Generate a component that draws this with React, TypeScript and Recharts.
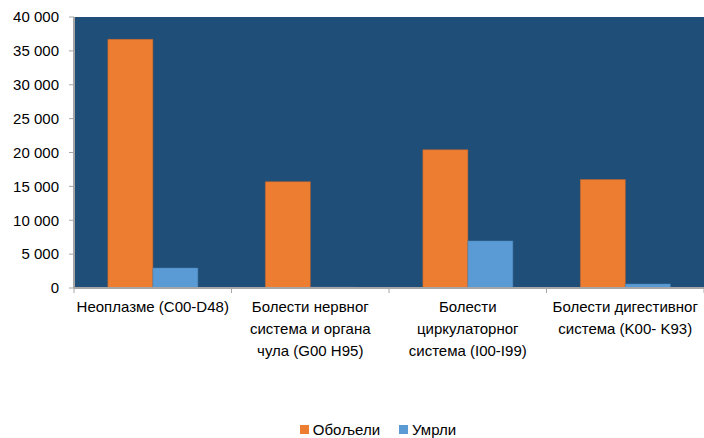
import { BarChart, Bar, XAxis, YAxis, CartesianGrid, Legend } from "recharts";

const categories = [
  "Неоплазме (C00-D48)",
  "Болести нервног\nсистема и органа\nчула (G00 H95)",
  "Болести\nциркулаторног\nсистема (I00-I99)",
  "Болести дигестивног\nсистема (K00- K93)",
];
const oboljeli = [36700, 15700, 20400, 16000];
const umrli = [2950, 120, 6950, 600];
const yTicks = [0, 5000, 10000, 15000, 20000, 25000, 30000, 35000, 40000];

const data = categories.map((name, i) => ({
  name,
  oboljeli: oboljeli[i],
  umrli: umrli[i],
}));

const FONT = "'Liberation Sans', Arial, sans-serif";
const AXIS = "#A6A6A6";

function formatThousands(v: number): string {
  return v.toString().replace(/\B(?=(\d{3})+(?!\d))/g, " ");
}

function CategoryTick(props: any) {
  const { x, y, payload, index, visibleTicksCount } = props;
  const half = 630 / categories.length / 2;
  const lines = String(payload.value).split("\n");
  return (
    <g>
      <line x1={x - half} x2={x - half} y1={y - 8} y2={y - 3} stroke={AXIS} />
      {index === visibleTicksCount - 1 && (
        <line x1={x + half} x2={x + half} y1={y - 8} y2={y - 3} stroke={AXIS} />
      )}
      <text textAnchor="middle" fill="#000" fontSize={15} fontFamily={FONT}>
        {lines.map((l, i) => (
          <tspan key={i} x={x} y={y + 16 + i * 22}>
            {l}
          </tspan>
        ))}
      </text>
    </g>
  );
}

function LegendContent({ payload }: any) {
  return (
    <div style={{ display: "flex", justifyContent: "center", gap: 19, fontFamily: FONT, fontSize: 15 }}>
      {(payload || []).map((p: any) => (
        <span key={p.value} style={{ display: "flex", alignItems: "center", color: "#000" }}>
          <span style={{ width: 9, height: 9, background: p.color, marginRight: 4, display: "inline-block" }} />
          {p.value}
        </span>
      ))}
    </div>
  );
}

export default function App() {
  return (
    <div style={{ position: "absolute", left: 0, top: 0, background: "#fff" }}>
      <BarChart
        width={704}
        height={438}
        data={data}
        margin={{ top: 17, right: 0, bottom: 0, left: 0 }}
        barCategoryGap="21.5%"
        barGap={0}
      >
        <CartesianGrid fill="#1F4E79" horizontal={false} vertical={false} />
        <XAxis
          dataKey="name"
          height={133}
          interval={0}
          axisLine={{ stroke: AXIS, strokeWidth: 2 }}
          tickLine={false}
          tick={<CategoryTick />}
        />
        <YAxis
          width={74}
          domain={[0, 40000]}
          ticks={yTicks}
          tickFormatter={formatThousands}
          axisLine={{ stroke: AXIS, strokeWidth: 2 }}
          tickLine={{ stroke: AXIS }}
          tickSize={5}
          tickMargin={10}
          tick={{ fill: "#000", fontSize: 15, fontFamily: FONT }}
        />
        <Legend
          verticalAlign="bottom"
          content={<LegendContent />}
          wrapperStyle={{ left: 26, width: 704 }}
        />
        <Bar
          dataKey="oboljeli"
          name="Обољели"
          fill="#ED7D31"
          stroke="#C0652A"
          strokeWidth={0.5}
          isAnimationActive={false}
        />
        <Bar
          dataKey="umrli"
          name="Умрли"
          fill="#5B9BD5"
          stroke="#4A80B0"
          strokeWidth={0.5}
          isAnimationActive={false}
        />
      </BarChart>
    </div>
  );
}
